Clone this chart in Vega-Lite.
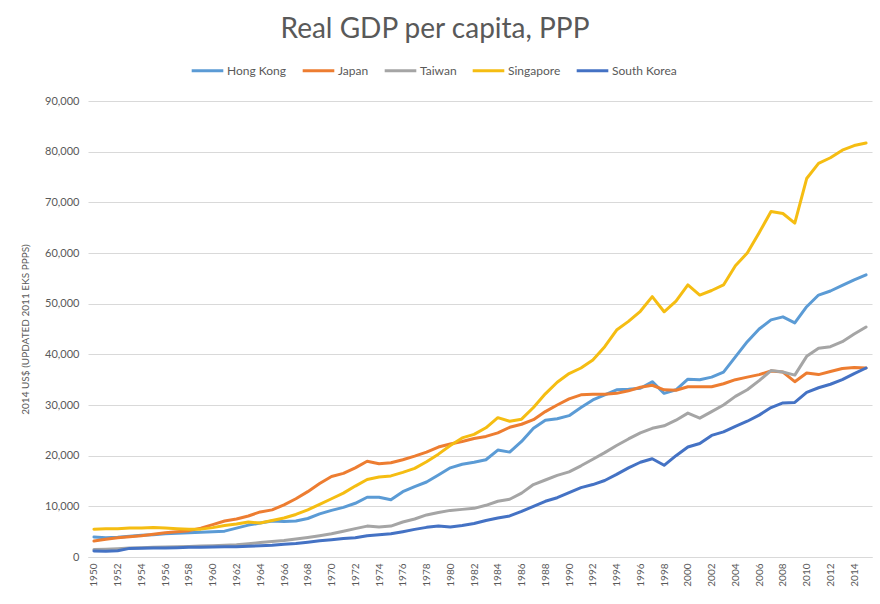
{
  "$schema": "https://vega.github.io/schema/vega-lite/v6.json",
  "width": 784,
  "height": 456,
  "autosize": {"type": "none"},
  "padding": {"left": 88, "top": 101, "right": 8, "bottom": 47},
  "background": "white",
  "title": {
    "text": "Real GDP per capita, PPP",
    "font": "Lato",
    "fontSize": 28,
    "fontWeight": "normal",
    "color": "#595959",
    "anchor": "middle",
    "dx": -45,
    "offset": 9
  },
  "config": {
    "view": {"stroke": null},
    "font": "Lato"
  },
  "data": {
    "values": [
      {"year":1950,"Hong Kong":3950,"Japan":3150,"Taiwan":1500,"Singapore":5500,"South Korea":1200},
      {"year":1951,"Hong Kong":3800,"Japan":3500,"Taiwan":1550,"Singapore":5600,"South Korea":1150},
      {"year":1952,"Hong Kong":3900,"Japan":3800,"Taiwan":1650,"Singapore":5600,"South Korea":1250},
      {"year":1953,"Hong Kong":4100,"Japan":4000,"Taiwan":1800,"Singapore":5700,"South Korea":1700},
      {"year":1954,"Hong Kong":4300,"Japan":4200,"Taiwan":1850,"Singapore":5700,"South Korea":1750},
      {"year":1955,"Hong Kong":4400,"Japan":4500,"Taiwan":1900,"Singapore":5800,"South Korea":1800},
      {"year":1956,"Hong Kong":4600,"Japan":4800,"Taiwan":1950,"Singapore":5700,"South Korea":1800},
      {"year":1957,"Hong Kong":4700,"Japan":5000,"Taiwan":2000,"Singapore":5600,"South Korea":1850},
      {"year":1958,"Hong Kong":4800,"Japan":5200,"Taiwan":2050,"Singapore":5500,"South Korea":1900},
      {"year":1959,"Hong Kong":4900,"Japan":5700,"Taiwan":2150,"Singapore":5500,"South Korea":1900},
      {"year":1960,"Hong Kong":5000,"Japan":6400,"Taiwan":2200,"Singapore":5800,"South Korea":1950},
      {"year":1961,"Hong Kong":5100,"Japan":7100,"Taiwan":2300,"Singapore":6200,"South Korea":2000},
      {"year":1962,"Hong Kong":5700,"Japan":7500,"Taiwan":2400,"Singapore":6500,"South Korea":2000},
      {"year":1963,"Hong Kong":6300,"Japan":8100,"Taiwan":2600,"Singapore":6900,"South Korea":2100},
      {"year":1964,"Hong Kong":6700,"Japan":8900,"Taiwan":2850,"Singapore":6700,"South Korea":2200},
      {"year":1965,"Hong Kong":7100,"Japan":9300,"Taiwan":3050,"Singapore":7200,"South Korea":2300},
      {"year":1966,"Hong Kong":7000,"Japan":10300,"Taiwan":3250,"Singapore":7700,"South Korea":2500},
      {"year":1967,"Hong Kong":7100,"Japan":11500,"Taiwan":3550,"Singapore":8400,"South Korea":2650},
      {"year":1968,"Hong Kong":7600,"Japan":12900,"Taiwan":3850,"Singapore":9300,"South Korea":2900},
      {"year":1969,"Hong Kong":8500,"Japan":14500,"Taiwan":4200,"Singapore":10400,"South Korea":3200},
      {"year":1970,"Hong Kong":9200,"Japan":15900,"Taiwan":4600,"Singapore":11500,"South Korea":3400},
      {"year":1971,"Hong Kong":9800,"Japan":16500,"Taiwan":5100,"Singapore":12600,"South Korea":3650},
      {"year":1972,"Hong Kong":10600,"Japan":17600,"Taiwan":5600,"Singapore":14000,"South Korea":3800},
      {"year":1973,"Hong Kong":11800,"Japan":18900,"Taiwan":6100,"Singapore":15300,"South Korea":4200},
      {"year":1974,"Hong Kong":11800,"Japan":18400,"Taiwan":5900,"Singapore":15800,"South Korea":4400},
      {"year":1975,"Hong Kong":11300,"Japan":18600,"Taiwan":6100,"Singapore":16000,"South Korea":4600},
      {"year":1976,"Hong Kong":12900,"Japan":19200,"Taiwan":6900,"Singapore":16700,"South Korea":5000},
      {"year":1977,"Hong Kong":13900,"Japan":19900,"Taiwan":7500,"Singapore":17500,"South Korea":5450},
      {"year":1978,"Hong Kong":14800,"Japan":20700,"Taiwan":8300,"Singapore":18800,"South Korea":5850},
      {"year":1979,"Hong Kong":16200,"Japan":21700,"Taiwan":8800,"Singapore":20300,"South Korea":6100},
      {"year":1980,"Hong Kong":17600,"Japan":22300,"Taiwan":9200,"Singapore":22000,"South Korea":5900},
      {"year":1981,"Hong Kong":18300,"Japan":22800,"Taiwan":9400,"Singapore":23500,"South Korea":6200},
      {"year":1982,"Hong Kong":18700,"Japan":23400,"Taiwan":9600,"Singapore":24200,"South Korea":6600},
      {"year":1983,"Hong Kong":19200,"Japan":23800,"Taiwan":10200,"Singapore":25500,"South Korea":7200},
      {"year":1984,"Hong Kong":21100,"Japan":24500,"Taiwan":11000,"Singapore":27500,"South Korea":7700},
      {"year":1985,"Hong Kong":20700,"Japan":25600,"Taiwan":11400,"Singapore":26800,"South Korea":8100},
      {"year":1986,"Hong Kong":22800,"Japan":26200,"Taiwan":12600,"Singapore":27200,"South Korea":9000},
      {"year":1987,"Hong Kong":25400,"Japan":27100,"Taiwan":14300,"Singapore":29500,"South Korea":10000},
      {"year":1988,"Hong Kong":27000,"Japan":28700,"Taiwan":15200,"Singapore":32200,"South Korea":11000},
      {"year":1989,"Hong Kong":27300,"Japan":30000,"Taiwan":16100,"Singapore":34500,"South Korea":11700},
      {"year":1990,"Hong Kong":27900,"Japan":31200,"Taiwan":16800,"Singapore":36200,"South Korea":12700},
      {"year":1991,"Hong Kong":29500,"Japan":32000,"Taiwan":18000,"Singapore":37300,"South Korea":13700},
      {"year":1992,"Hong Kong":31000,"Japan":32100,"Taiwan":19300,"Singapore":38900,"South Korea":14300},
      {"year":1993,"Hong Kong":32000,"Japan":32100,"Taiwan":20600,"Singapore":41500,"South Korea":15100},
      {"year":1994,"Hong Kong":33000,"Japan":32300,"Taiwan":22000,"Singapore":44800,"South Korea":16300},
      {"year":1995,"Hong Kong":33100,"Japan":32800,"Taiwan":23300,"Singapore":46500,"South Korea":17600},
      {"year":1996,"Hong Kong":33300,"Japan":33500,"Taiwan":24500,"Singapore":48500,"South Korea":18700},
      {"year":1997,"Hong Kong":34600,"Japan":33900,"Taiwan":25400,"Singapore":51400,"South Korea":19400},
      {"year":1998,"Hong Kong":32300,"Japan":33000,"Taiwan":25900,"Singapore":48400,"South Korea":18100},
      {"year":1999,"Hong Kong":33000,"Japan":32900,"Taiwan":27000,"Singapore":50500,"South Korea":20000},
      {"year":2000,"Hong Kong":35100,"Japan":33600,"Taiwan":28400,"Singapore":53700,"South Korea":21700},
      {"year":2001,"Hong Kong":35000,"Japan":33600,"Taiwan":27400,"Singapore":51700,"South Korea":22400},
      {"year":2002,"Hong Kong":35500,"Japan":33600,"Taiwan":28700,"Singapore":52600,"South Korea":24000},
      {"year":2003,"Hong Kong":36500,"Japan":34200,"Taiwan":30000,"Singapore":53700,"South Korea":24700},
      {"year":2004,"Hong Kong":39500,"Japan":35000,"Taiwan":31700,"Singapore":57500,"South Korea":25800},
      {"year":2005,"Hong Kong":42500,"Japan":35500,"Taiwan":33000,"Singapore":60000,"South Korea":26800},
      {"year":2006,"Hong Kong":45000,"Japan":36000,"Taiwan":34800,"Singapore":64000,"South Korea":28000},
      {"year":2007,"Hong Kong":46800,"Japan":36700,"Taiwan":36800,"Singapore":68200,"South Korea":29500},
      {"year":2008,"Hong Kong":47400,"Japan":36500,"Taiwan":36500,"Singapore":67800,"South Korea":30400},
      {"year":2009,"Hong Kong":46200,"Japan":34600,"Taiwan":35900,"Singapore":65900,"South Korea":30500},
      {"year":2010,"Hong Kong":49400,"Japan":36300,"Taiwan":39600,"Singapore":74700,"South Korea":32500},
      {"year":2011,"Hong Kong":51700,"Japan":36000,"Taiwan":41200,"Singapore":77700,"South Korea":33400},
      {"year":2012,"Hong Kong":52500,"Japan":36600,"Taiwan":41500,"Singapore":78800,"South Korea":34100},
      {"year":2013,"Hong Kong":53600,"Japan":37200,"Taiwan":42500,"Singapore":80300,"South Korea":35000},
      {"year":2014,"Hong Kong":54700,"Japan":37400,"Taiwan":44000,"Singapore":81200,"South Korea":36200},
      {"year":2015,"Hong Kong":55700,"Japan":37300,"Taiwan":45400,"Singapore":81700,"South Korea":37300}
    ]
  },
  "transform": [
    {"fold": ["Hong Kong", "Japan", "Taiwan", "Singapore", "South Korea"], "as": ["country", "gdp"]}
  ],
  "mark": {"type": "line", "strokeWidth": 3, "strokeJoin": "round", "strokeCap": "round"},
  "encoding": {
    "x": {
      "field": "year",
      "type": "quantitative",
      "scale": {"domain": [1949.5, 2015.5], "nice": false, "zero": false},
      "axis": {
        "title": null,
        "values": [1950,1952,1954,1956,1958,1960,1962,1964,1966,1968,1970,1972,1974,1976,1978,1980,1982,1984,1986,1988,1990,1992,1994,1996,1998,2000,2002,2004,2006,2008,2010,2012,2014],
        "format": "d",
        "labelAngle": -90,
        "labelFontSize": 10,
        "labelColor": "#595959",
        "labelFont": "Lato",
        "labelPadding": 6,
        "labelFlush": false,
        "labelOverlap": false,
        "ticks": false,
        "grid": false,
        "domainColor": "#D9D9D9",
        "domainWidth": 1
      }
    },
    "y": {
      "field": "gdp",
      "type": "quantitative",
      "scale": {"domain": [0, 90000], "nice": false},
      "axis": {
        "title": "2014 US$ (UPDATED 2011 EKS PPPS)",
        "titleFontSize": 10,
        "titleFontWeight": "normal",
        "titleColor": "#595959",
        "titleFont": "Lato",
        "titlePadding": 14,
        "values": [0,10000,20000,30000,40000,50000,60000,70000,80000,90000],
        "format": ",d",
        "labelFontSize": 11,
        "labelColor": "#595959",
        "labelFont": "Lato",
        "labelPadding": 9,
        "ticks": false,
        "domain": false,
        "gridColor": "#D9D9D9",
        "gridWidth": 1
      }
    },
    "color": {
      "field": "country",
      "type": "nominal",
      "scale": {
        "domain": ["Hong Kong", "Japan", "Taiwan", "Singapore", "South Korea"],
        "range": ["#5B9BD5", "#ED7D31", "#A5A5A5", "#F5BD12", "#4472C4"]
      },
      "legend": {
        "title": null,
        "orient": "none",
        "direction": "horizontal",
        "legendX": 102,
        "legendY": -48,
        "symbolType": "stroke",
        "symbolSize": 1000,
        "symbolStrokeWidth": 3,
        "labelFontSize": 12,
        "labelColor": "#595959",
        "labelFont": "Lato",
        "labelOffset": 2,
        "columnPadding": 9
      }
    }
  }
}
